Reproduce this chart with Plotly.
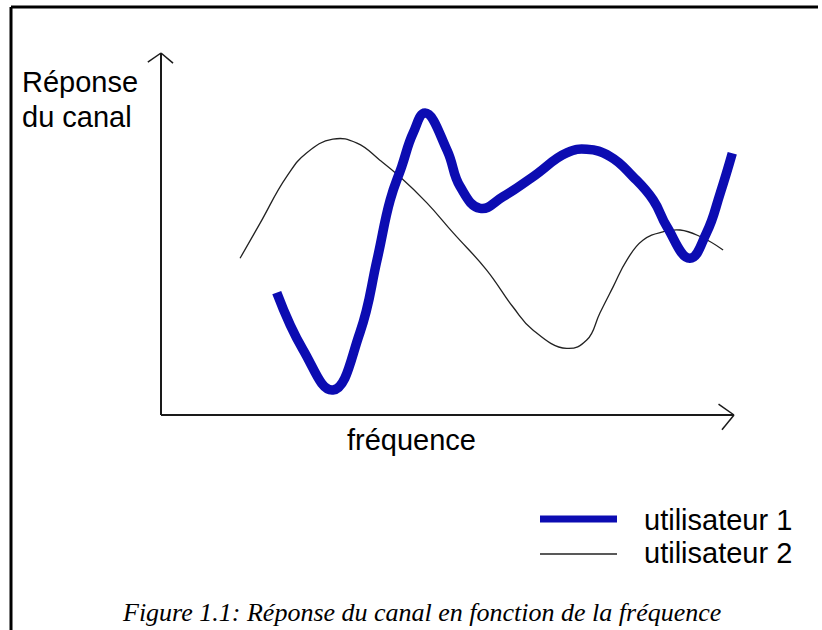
import plotly.graph_objects as go

# ---- data (chart units: frequency 0..100 along x-axis, response 0..100 along y-axis) ----
freq_user1 = [20.2, 24.8, 30.0, 34.7, 37.7, 40.0, 42.0, 44.0, 46.1, 49.9, 52.2, 55.7, 59.7,
              64.9, 70.8, 74.3, 78.4, 82.4, 85.9, 88.3, 92.3, 95.2, 97.6, 99.7]
resp_user1 = [33.8, 18.0, 6.9, 22.7, 42.8, 59.4, 68.6, 77.9, 83.4, 73.2, 63.1, 57.1, 60.3,
              65.8, 72.4, 73.4, 71.4, 65.8, 59.4, 52.0, 43.3, 50.3, 61.3, 72.3]

freq_user2 = [13.8, 17.3, 21.9, 25.4, 30.0, 34.2, 38.2, 41.7, 46.4, 51.0, 56.8, 61.4, 64.9,
              70.8, 74.3, 76.6, 78.9, 81.3, 84.1, 87.6, 90.6, 94.1, 98.1]
resp_user2 = [43.3, 53.0, 65.8, 72.4, 76.2, 75.1, 70.4, 65.8, 58.6, 50.3, 40.1, 29.9, 23.5,
              18.4, 20.7, 28.2, 35.4, 42.8, 48.3, 50.6, 51.1, 49.3, 45.6]

series_names = ["utilisateur 1", "utilisateur 2"]
y_title = ["Réponse", "du canal"]
x_title = "fréquence"
caption = "Figure 1.1: Réponse du canal en fonction de la fréquence"

W, H = 822, 630
# pixel geometry of the drawn axes
X0_PX, X1_PX = 161, 734
Y0_PX, Y1_PX = 415, 53
sx = (X1_PX - X0_PX) / 100.0
sy = (Y0_PX - Y1_PX) / 100.0
x_range = [(0 - X0_PX) / sx, (W - X0_PX) / sx]
y_range = [(Y0_PX - H) / sy, (Y0_PX - 0) / sy]

BLUE = "rgb(12,12,178)"

fig = go.Figure()
fig.add_trace(go.Scatter(x=freq_user2, y=resp_user2, mode="lines", name=series_names[1],
                         line=dict(color="#222222", width=1.3, shape="spline", smoothing=1.3),
                         showlegend=False, hoverinfo="skip"))
fig.add_trace(go.Scatter(x=freq_user1, y=resp_user1, mode="lines", name=series_names[0],
                         line=dict(color=BLUE, width=9.5, shape="spline", smoothing=1.3),
                         showlegend=False, hoverinfo="skip"))

shapes = []
def px_to_paper(x, y):
    return x / W, 1 - y / H

# axes with arrows (data coords)
ax = dict(type="line", xref="x", yref="y", line=dict(color="#1a1a1a", width=2))
shapes.append(dict(ax, x0=0, y0=0, x1=100, y1=0))
shapes.append(dict(ax, x0=0, y0=0, x1=0, y1=100))
# arrow heads
head = dict(color="#1a1a1a", width=1.5)
shapes.append(dict(ax, x0=-2.3, y0=97.5, x1=0, y1=100, line=head))
shapes.append(dict(ax, x0=2.1, y0=97.2, x1=0, y1=100, line=head))
shapes.append(dict(ax, x0=97.3, y0=3.0, x1=100, y1=0, line=head))
shapes.append(dict(ax, x0=97.9, y0=-4.1, x1=100, y1=0, line=head))

# frame (top and left)
fx0, fy0 = px_to_paper(11, 7)
fx1, _ = px_to_paper(818, 7)
_, fy1 = px_to_paper(11, 630)
shapes.append(dict(type="line", xref="paper", yref="paper", x0=fx0, y0=fy0, x1=fx1, y1=fy0,
                   line=dict(color="black", width=3)))
shapes.append(dict(type="line", xref="paper", yref="paper", x0=fx0, y0=fy0, x1=fx0, y1=fy1,
                   line=dict(color="black", width=3)))

# legend samples
lx0, ly1 = px_to_paper(540, 519)
lx1, _ = px_to_paper(617, 519)
_, ly2 = px_to_paper(540, 554)
shapes.append(dict(type="line", xref="paper", yref="paper", x0=lx0, y0=ly1, x1=lx1, y1=ly1,
                   line=dict(color=BLUE, width=7)))
shapes.append(dict(type="line", xref="paper", yref="paper", x0=lx0, y0=ly2, x1=lx1, y1=ly2,
                   line=dict(color="#222222", width=1.5)))

ARIAL = "Liberation Sans, Arial, sans-serif"
annotations = []
def txt(text, x, y, size, xanchor="left", family=ARIAL, italic=False):
    px, py = px_to_paper(x, y)
    t = f"<i>{text}</i>" if italic else text
    annotations.append(dict(text=t, x=px, y=py, xref="paper", yref="paper", showarrow=False,
                            xanchor=xanchor, yanchor="middle",
                            font=dict(family=family, size=size, color="black")))

txt(y_title[0], 20, 82, 29)
txt(y_title[1], 20, 117, 29)
txt(x_title, 411, 440, 29, xanchor="center")
txt(series_names[0], 642, 520, 29)
txt(series_names[1], 642, 553, 29)
txt(caption, 421, 612, 26, xanchor="center", family="Liberation Serif, Times New Roman, serif", italic=True)

fig.update_layout(
    width=W, height=H, margin=dict(l=0, r=0, t=0, b=0, pad=0),
    paper_bgcolor="white", plot_bgcolor="white",
    xaxis=dict(range=x_range, visible=False, fixedrange=True),
    yaxis=dict(range=y_range, visible=False, fixedrange=True),
    shapes=shapes, annotations=annotations, showlegend=False,
)
fig.write_html("out.html", config={"displayModeBar": False},
               post_script="document.body.style.margin='0';document.body.style.padding='0';")
